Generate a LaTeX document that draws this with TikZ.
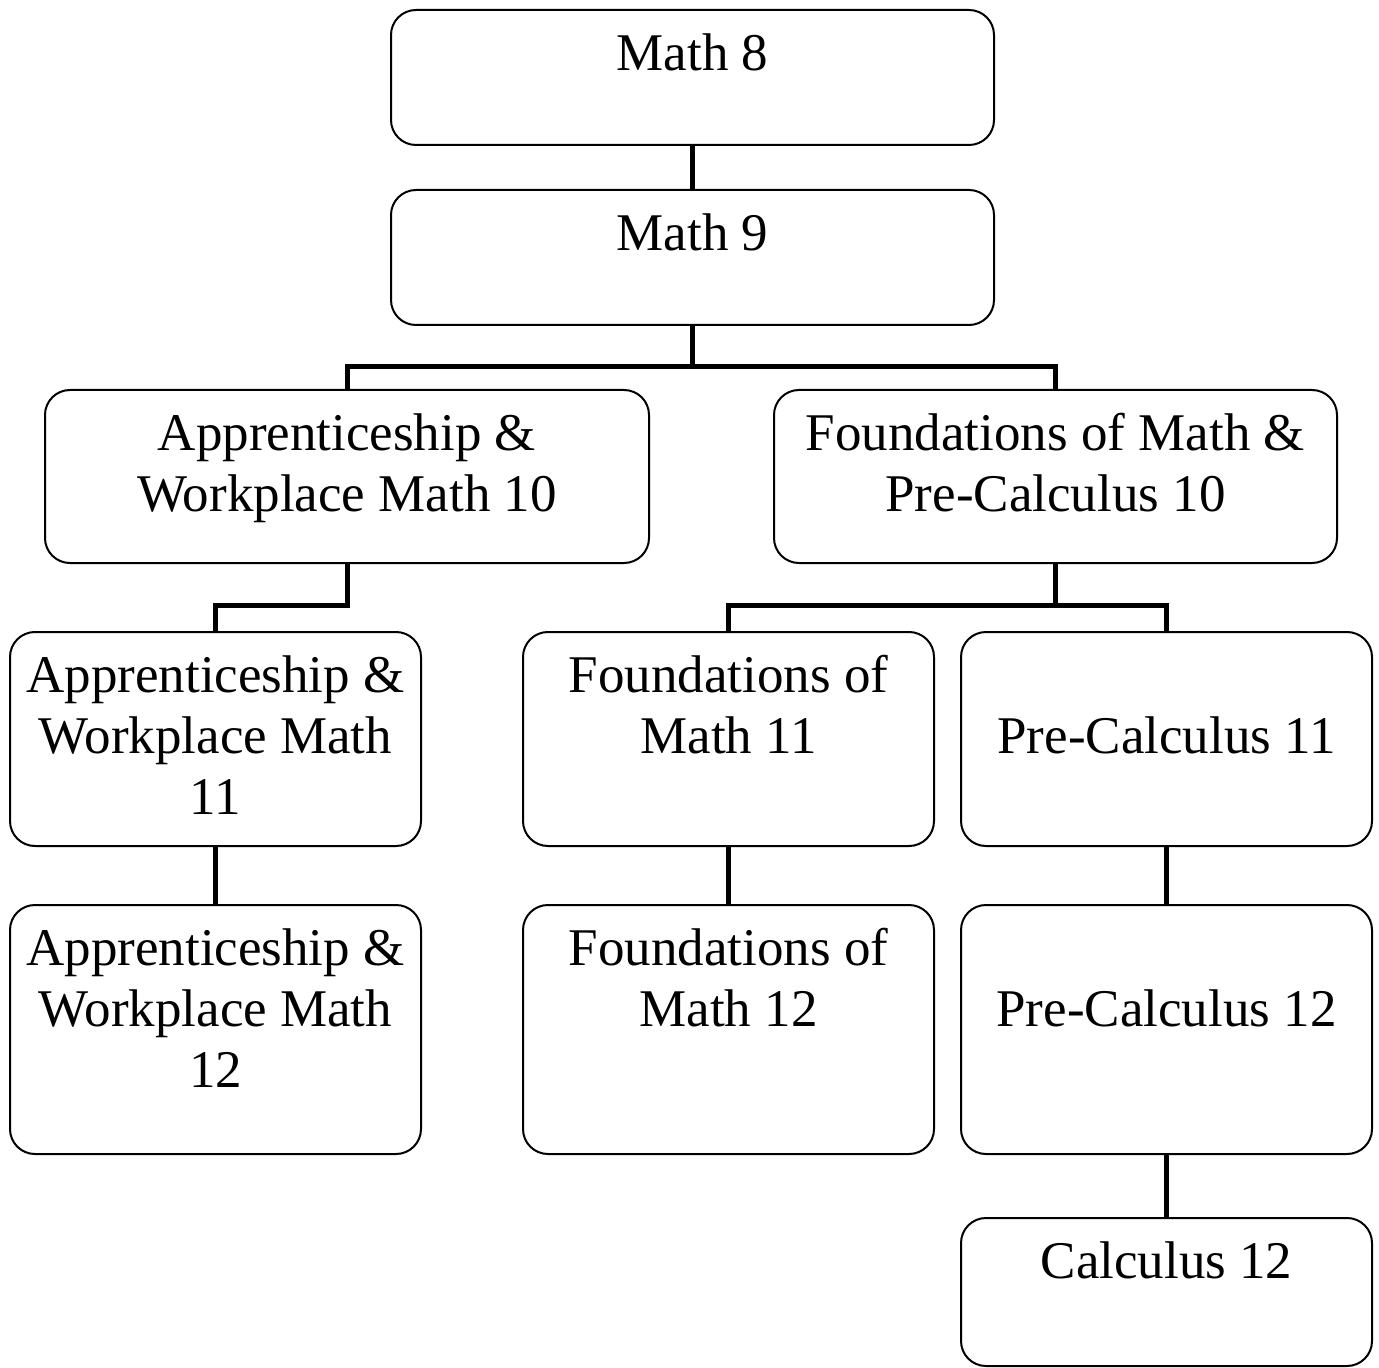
\documentclass[tikz,border=0pt]{standalone}
\usepackage{fontspec}
\setmainfont{Liberation Serif}
\begin{document}
\begin{tikzpicture}[x=0.5pt,y=-0.5pt,
  box/.style={draw=black, line width=1pt, rounded corners=12.5pt, inner sep=0pt, outer sep=0pt, fill=white},
  lbl/.style={font=\fontsize{26.5}{30.5}\selectfont, align=center, inner sep=0pt, anchor=north, yshift=-8.65pt},
  conn/.style={line width=2.5pt}]
\useasboundingbox (0,0) rectangle (1379,1368);
% boxes
\node[box, minimum width=301.5pt, minimum height=67.5pt] (m8) at (692.5,77.5) {};
\node[box, minimum width=301.5pt, minimum height=67.5pt] (m9) at (692.5,257.5) {};
\node[box, minimum width=302pt, minimum height=86.5pt] (aw10) at (347,476.5) {};
\node[box, minimum width=281.5pt, minimum height=86.5pt] (fp10) at (1055.5,476.5) {};
\node[box, minimum width=205.5pt, minimum height=107pt] (aw11) at (215.5,739) {};
\node[box, minimum width=205.5pt, minimum height=107pt] (f11) at (728.5,739) {};
\node[box, minimum width=205.5pt, minimum height=107pt] (pc11) at (1166.5,739) {};
\node[box, minimum width=205.5pt, minimum height=124.5pt] (aw12) at (215.5,1029.5) {};
\node[box, minimum width=205.5pt, minimum height=124.5pt] (f12) at (728.5,1029.5) {};
\node[box, minimum width=205.5pt, minimum height=124.5pt] (pc12) at (1166.5,1029.5) {};
\node[box, minimum width=205.5pt, minimum height=74pt] (c12) at (1166.5,1292) {};
% labels
\node[lbl] (m8t) at (m8.north) {\strut Math 8};
\node[lbl] (m9t) at (m9.north) {\strut Math 9};
\node[lbl] (aw10t) at (aw10.north) {\strut Apprenticeship \&\\\strut Workplace Math 10};
\node[lbl] (fp10t) at (fp10.north) {\strut Foundations of Math \&\\\strut Pre-Calculus 10};
\node[lbl] (aw11t) at (aw11.north) {\strut Apprenticeship \&\\\strut Workplace Math\\\strut 11};
\node[lbl] (f11t) at (f11.north) {\strut Foundations of\\\strut Math 11};
\node[lbl] (pc11t) at (pc11.north) {\strut\\\strut Pre-Calculus 11};
\node[lbl] (aw12t) at (aw12.north) {\strut Apprenticeship \&\\\strut Workplace Math\\\strut 12};
\node[lbl] (f12t) at (f12.north) {\strut Foundations of\\\strut Math 12};
\node[lbl] (pc12t) at (pc12.north) {\strut\\\strut Pre-Calculus 12};
\node[lbl] (c12t) at (c12.north) {\strut Calculus 12};
% connectors
\draw[conn] (m8.south) -- (m9.north);
\draw[conn] (m9.south) -- ++(0,42) -| (aw10.north);
\draw[conn] (m9.south) -- ++(0,42) -| (fp10.north);
\draw[conn] (aw10.south) -- ++(0,42) -| (aw11.north);
\draw[conn] (fp10.south) -- ++(0,42) -| (f11.north);
\draw[conn] (fp10.south) -- ++(0,42) -| (pc11.north);
\draw[conn] (aw11.south) -- (aw12.north);
\draw[conn] (f11.south) -- (f12.north);
\draw[conn] (pc11.south) -- (pc12.north);
\draw[conn] (pc12.south) -- (c12.north);
\end{tikzpicture}
\end{document}
